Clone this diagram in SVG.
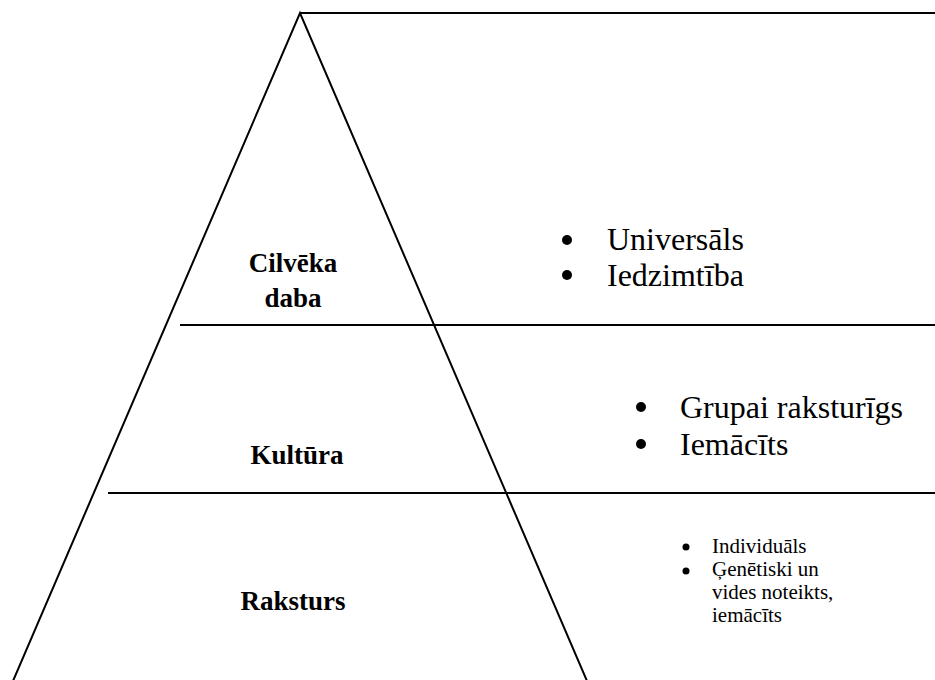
<svg xmlns="http://www.w3.org/2000/svg" width="935" height="680" viewBox="0 0 935 680">
  <style>
    .ln { stroke: #000; stroke-width: 2; fill: none; }
    .lvl { font-family: "Liberation Serif", "Times New Roman", serif; font-weight: bold; font-size: 27px; fill: #000; text-anchor: middle; }
    .item { font-family: "Liberation Serif", "Times New Roman", serif; font-size: 32px; fill: #000; }
    .small { font-family: "Liberation Serif", "Times New Roman", serif; font-size: 21px; fill: #000; }
  </style>
  <rect width="935" height="680" fill="#fff"/>

  <!-- pyramid outline and level dividers -->
  <g id="connectors">
    <polyline class="ln" points="13,681 300,13 587,681"/>
    <line class="ln" x1="300" y1="13" x2="935" y2="13"/>
    <line class="ln" x1="180" y1="325" x2="935" y2="325"/>
    <line class="ln" x1="108" y1="493" x2="935" y2="493"/>
  </g>

  <!-- top level -->
  <g id="cilveka-daba">
    <text class="lvl" x="293" y="272">Cilvēka</text>
    <text class="lvl" x="293" y="307">daba</text>
    <circle cx="567" cy="240" r="5"/>
    <text class="item" x="607" y="250">Universāls</text>
    <circle cx="567" cy="275" r="5"/>
    <text class="item" x="607" y="286">Iedzimtība</text>
  </g>

  <!-- middle level -->
  <g id="kultura">
    <text class="lvl" x="297" y="464">Kultūra</text>
    <circle cx="641" cy="407" r="5"/>
    <text class="item" x="680" y="418">Grupai raksturīgs</text>
    <circle cx="641" cy="444" r="5"/>
    <text class="item" x="680" y="455">Iemācīts</text>
  </g>

  <!-- bottom level -->
  <g id="raksturs">
    <text class="lvl" x="293" y="610">Raksturs</text>
    <circle cx="686" cy="547" r="3.5"/>
    <text class="small" x="712" y="553">Individuāls</text>
    <circle cx="686" cy="571" r="3.5"/>
    <text class="small" x="712" y="576">Ģenētiski un</text>
    <text class="small" x="712" y="599">vides noteikts,</text>
    <text class="small" x="712" y="622">iemācīts</text>
  </g>
</svg>
